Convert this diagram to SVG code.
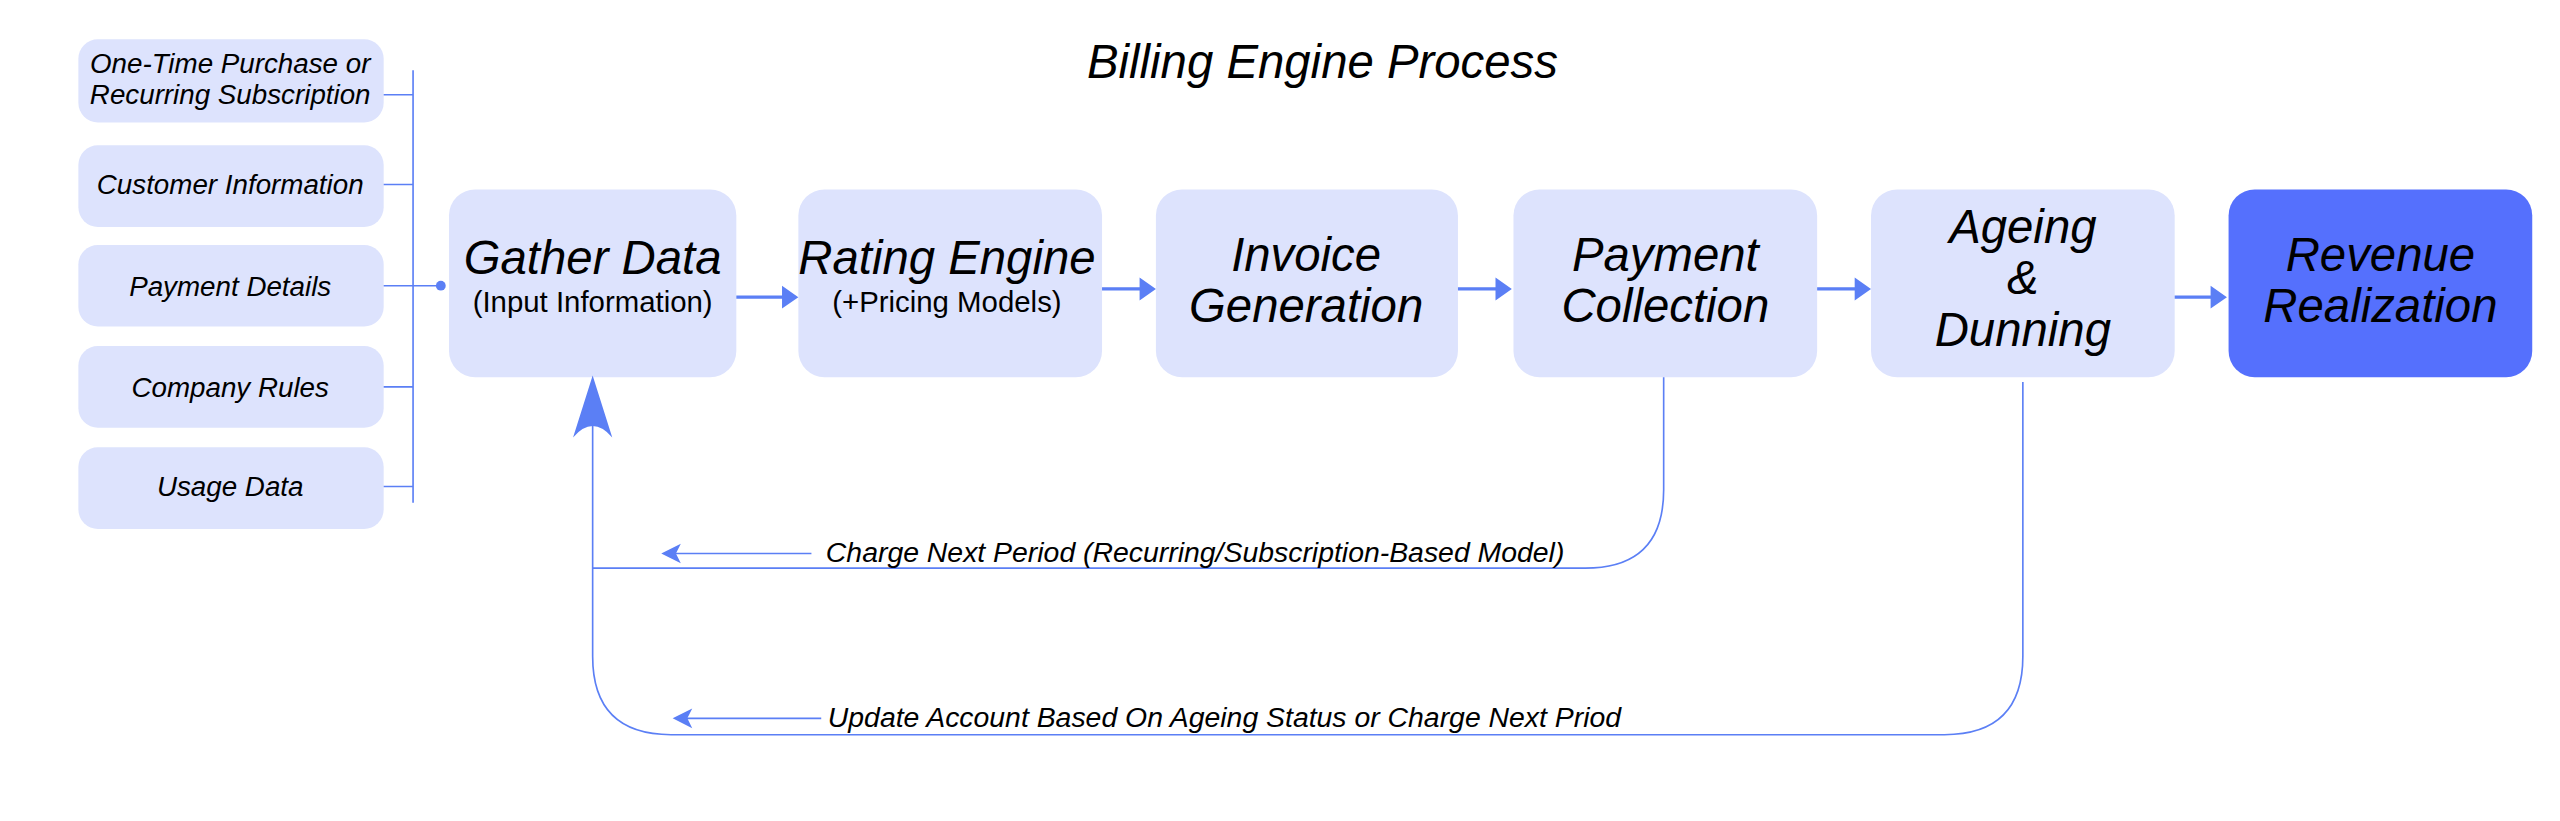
<svg xmlns="http://www.w3.org/2000/svg" width="2560" height="821" viewBox="0 0 2560 821">
<style>
.in{fill:#dde3fd}
.t{font-family:"Liberation Sans",Arial,sans-serif;font-style:italic;fill:#000;text-anchor:middle}
.n{font-style:normal}
.s{font-size:17px}
.b{font-size:29px}
.l{stroke:#5b7ff5;stroke-width:1;fill:none}
.a{stroke:#5b7ff5;stroke-width:2;fill:none}
.h{fill:#5b7ff5}
</style>
<rect width="2560" height="821" fill="#fff"/>
<g transform="scale(1.63265)">
<text class="t" x="810" y="48" font-size="29">Billing Engine Process</text>
<g id="in1"><rect class="in" x="48" y="24" width="187" height="51" rx="12"/><text class="t s" x="141" y="45">One-Time Purchase or</text><text class="t s" x="141" y="64">Recurring Subscription</text></g>
<g id="in2"><rect class="in" x="48" y="89" width="187" height="50" rx="12"/><text class="t s" x="141" y="119">Customer Information</text></g>
<g id="in3"><rect class="in" x="48" y="150" width="187" height="50" rx="12"/><text class="t s" x="141" y="181">Payment Details</text></g>
<g id="in4"><rect class="in" x="48" y="212" width="187" height="50" rx="12"/><text class="t s" x="141" y="243">Company Rules</text></g>
<g id="in5"><rect class="in" x="48" y="274" width="187" height="50" rx="12"/><text class="t s" x="141" y="304">Usage Data</text></g>
<g id="gather"><rect class="in" x="275" y="116" width="176" height="115" rx="16"/><text class="t" x="363" y="168" font-size="29">Gather Data</text><text class="t n" x="363" y="191" font-size="18">(Input Information)</text></g>
<g id="rating"><rect class="in" x="489" y="116" width="186" height="115" rx="16"/><text class="t" x="580" y="168" font-size="29">Rating Engine</text><text class="t n" x="580" y="191" font-size="18">(+Pricing Models)</text></g>
<g id="invoice"><rect class="in" x="708" y="116" width="185" height="115" rx="16"/><text class="t b" x="800" y="166">Invoice</text><text class="t b" x="800" y="197">Generation</text></g>
<g id="payment"><rect class="in" x="927" y="116" width="186" height="115" rx="16"/><text class="t b" x="1020" y="166">Payment</text><text class="t b" x="1020" y="197">Collection</text></g>
<g id="ageing"><rect class="in" x="1146" y="116" width="186" height="115" rx="16"/><text class="t b" x="1239" y="149">Ageing</text><text class="t b" x="1239" y="180">&amp;</text><text class="t b" x="1239" y="212">Dunning</text></g>
<g id="revenue"><rect x="1365" y="116" width="186" height="115" rx="16" fill="#5570fd"/><text class="t b" x="1458" y="166">Revenue</text><text class="t b" x="1458" y="197">Realization</text></g>
<g id="connectors">
<path class="l" d="M253 43V308M235 58H253M235 113H253M235 175H270M235 237H253M235 298H253"/>
<circle class="h" cx="270" cy="175" r="3"/>
<path class="a" d="M451 182H480M675 177H700M893 177H918M1113 177H1138M1332 182H1356"/>
<path class="h" d="M489 182l-10-7v14zM708 177l-10-7v14zM926 177l-10-7v14zM1146 177l-10-7v14zM1364 182l-10-7v14z"/>
<path class="l" d="M1019 231V300Q1019 348 971 348H363"/>
<path class="l" d="M1239 234V402Q1239 450 1191 450H411Q363 450 363 402V255"/>
<path class="h" d="M363 230L351 268Q363 254 375 268Z"/>
<path class="l" d="M497 339H412"/><path class="h" d="M405 339l12-6-3 6 3 6z"/>
<path class="l" d="M503 440H419"/><path class="h" d="M412 440l12-6-3 6 3 6z"/>
<text class="t" x="732" y="344" font-size="17.4">Charge Next Period (Recurring/Subscription-Based Model)</text>
<text class="t" x="750" y="445" font-size="17.4">Update Account Based On Ageing Status or Charge Next Priod</text>
</g>
</g>
</svg>
